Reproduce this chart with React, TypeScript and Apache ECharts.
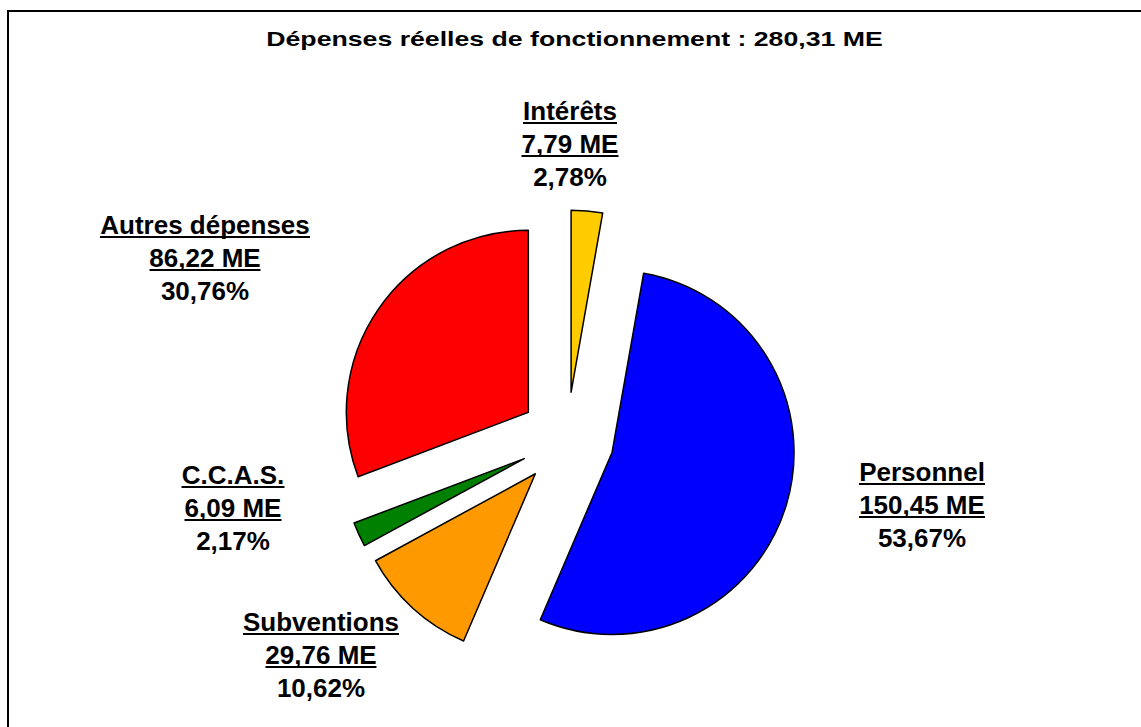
import React, { useEffect, useRef } from "react";
import * as echarts from "echarts";

const titleText = "Dépenses réelles de fonctionnement : 280,31 ME";
const categories = ["Intérêts", "Personnel", "Subventions", "C.C.A.S.", "Autres dépenses"];
const amounts = [7.79, 150.45, 29.76, 6.09, 86.22];
const amountLabels = ["7,79 ME", "150,45 ME", "29,76 ME", "6,09 ME", "86,22 ME"];
const percentLabels = ["2,78%", "53,67%", "10,62%", "2,17%", "30,76%"];
const sliceColors = ["#FFCC00", "#0000FF", "#FF9900", "#008000", "#FF0000"];
// label block anchors (centre of the amount line), in page pixels
const labelAnchors: number[][] = [
  [570, 144],
  [922, 505],
  [321, 655],
  [233, 508],
  [205, 258],
];

const FONT_FAMILY = "'Liberation Sans', Arial, Helvetica, sans-serif";
const LABEL_SIZE = 26;

function measure(text: string): number {
  const c = document.createElement("canvas");
  const ctx = c.getContext("2d");
  if (!ctx) return text.length * 14;
  ctx.font = `bold ${LABEL_SIZE}px ${FONT_FAMILY}`;
  return ctx.measureText(text).width;
}

export default function App() {
  const ref = useRef<HTMLDivElement>(null);

  useEffect(() => {
    if (!ref.current) return;
    const chart = echarts.init(ref.current, undefined, { renderer: "svg" });

    const textTok = {
      fontFamily: FONT_FAMILY,
      fontWeight: "bold",
      fontSize: LABEL_SIZE,
      fill: "#000",
      textFill: "#000",
      lineHeight: 22,
      textLineHeight: 22,
      align: "center",
      textAlign: "center",
    };
    const under = (w: number) => ({
      width: w,
      textWidth: w,
      height: 2,
      textHeight: 2,
      lineHeight: 11,
      textLineHeight: 11,
      fontSize: 2,
      backgroundColor: "#000",
      textBackgroundColor: "#000",
      verticalAlign: "top",
      textVerticalAlign: "top",
      align: "center",
      textAlign: "center",
    });

    const labelGraphics = categories.map((name, i) => ({
      type: "text",
      x: labelAnchors[i][0],
      y: labelAnchors[i][1],
      silent: true,
      z: 10,
      style: {
        text: `{n|${name}}\n{u1|\u00a0}\n{v|${amountLabels[i]}}\n{u2|\u00a0}\n{p|${percentLabels[i]}}`,
        align: "center",
        verticalAlign: "middle",
        textAlign: "center",
        textVerticalAlign: "middle",
        rich: {
          n: { ...textTok },
          v: { ...textTok },
          p: { ...textTok },
          u1: under(Math.round(measure(name))),
          u2: under(Math.round(measure(amountLabels[i]))),
        },
      },
    }));

    const data = categories.map((name, i) => ({
      name,
      value: amounts[i],
      selected: true,
      itemStyle: { color: sliceColors[i] },
    }));

    chart.setOption({
      animation: false,
      backgroundColor: "#ffffff",
      graphic: [
        {
          type: "rect",
          silent: true,
          z: -10,
          shape: { x: 8, y: 11, width: 1200, height: 800 },
          style: { fill: "none", stroke: "#000", lineWidth: 2 },
        },
        {
          type: "text",
          x: 574.5,
          y: 39,
          scaleX: 1.27,
          scaleY: 1,
          silent: true,
          style: {
            text: titleText,
            font: `bold 21px ${FONT_FAMILY}`,
            fill: "#000",
            textAlign: "center",
            textVerticalAlign: "middle",
            align: "center",
            verticalAlign: "middle",
          },
        },
        ...labelGraphics,
      ],
      series: [
        {
          type: "pie",
          center: [567, 439],
          radius: 182,
          startAngle: 90,
          clockwise: true,
          selectedMode: "multiple",
          selectedOffset: 47,
          avoidLabelOverlap: false,
          itemStyle: { borderColor: "#000", borderWidth: 1.5 },
          select: { itemStyle: { borderColor: "#000", borderWidth: 1.5 } },
          emphasis: { disabled: true },
          label: { show: false },
          labelLine: { show: false },
          data,
        },
      ],
    });

    return () => chart.dispose();
  }, []);

  return (
    <div
      ref={ref}
      style={{ position: "absolute", left: 0, top: 0, width: 1141, height: 727, background: "#fff" }}
    />
  );
}
